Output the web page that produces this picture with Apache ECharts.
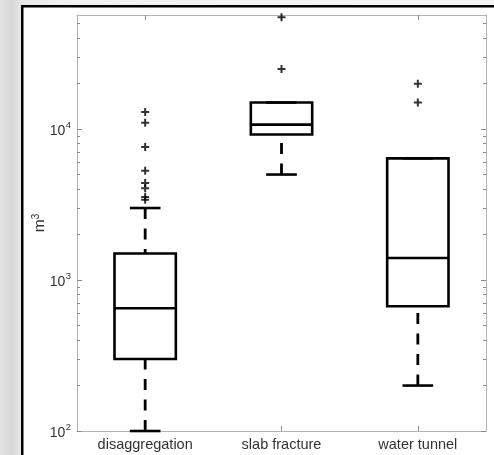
<!DOCTYPE html>
<html>
<head>
<meta charset="utf-8">
<script src="https://cdn.jsdelivr.net/npm/echarts@6/dist/echarts.min.js"></script>
<style>
  html, body { margin: 0; padding: 0; width: 494px; height: 455px; overflow: hidden; background: #f2f2f2; }
  #chart { position: absolute; left: 0; top: 0; width: 494px; height: 455px; }
</style>
</head>
<body>
<div id="chart"></div>
<script>
// Volume (m^3) by failure mechanism
const categories = ['disaggregation', 'slab fracture', 'water tunnel'];

// Box summaries per category
const whiskerLow  = [100, 5000, 200];
const quartile1   = [300, 9200, 670];
const medians     = [650, 10700, 1400];
const quartile3   = [1500, 15000, 6400];
const whiskerHigh = [3000, 15000, 6400];

// Outliers per category
const outliersDisaggregation = [13000, 11000, 7600, 5300, 4400, 4050, 3550, 3400];
const outliersSlabFracture   = [55000, 25000];
const outliersWaterTunnel    = [20000, 15000];

// Log axis tick values
const majorTicks = [100, 1000, 10000];
const minorTicks = [200, 300, 400, 500, 600, 700, 800, 900,
                    2000, 3000, 4000, 5000, 6000, 7000, 8000, 9000,
                    20000, 30000, 40000, 50000];
const yMin = 100;
const yMax = 57000;

const FONT = '"Liberation Sans", Arial, Helvetica, sans-serif';
const AXIS_GRAY = '#b4b4b4';
const TICK_GRAY = '#8c8c8c';
const TEXT = '#333333';

const boxData = categories.map((c, i) =>
  [i, whiskerLow[i], quartile1[i], medians[i], quartile3[i], whiskerHigh[i]]);

const outlierData = []
  .concat(outliersDisaggregation.map(v => [0, v]))
  .concat(outliersSlabFracture.map(v => [1, v]))
  .concat(outliersWaterTunnel.map(v => [2, v]));

function renderBox(params, api) {
  const i = api.value(0);
  const pLow  = api.coord([i, api.value(1)]);
  const pQ1   = api.coord([i, api.value(2)]);
  const pMed  = api.coord([i, api.value(3)]);
  const pQ3   = api.coord([i, api.value(4)]);
  const pHigh = api.coord([i, api.value(5)]);
  const band = api.size([1, 0])[0];
  const x = pMed[0];
  const bw = band * 0.45;
  const cw = band * 0.225;
  const solid = { stroke: '#000', lineWidth: 2.6, fill: null };
  const dashed = { stroke: '#000', lineWidth: 2.8, lineDash: [11, 9.5], fill: null };
  const children = [];
  if (pLow[1] - pQ1[1] > 0.5) {
    children.push({ type: 'line', shape: { x1: x, y1: pLow[1], x2: x, y2: pQ1[1] }, style: dashed });
  }
  if (pQ3[1] - pHigh[1] > 0.5) {
    children.push({ type: 'line', shape: { x1: x, y1: pHigh[1], x2: x, y2: pQ3[1] }, style: dashed });
  }
  children.push({ type: 'line', shape: { x1: x - cw / 2, y1: pLow[1], x2: x + cw / 2, y2: pLow[1] }, style: solid });
  children.push({ type: 'line', shape: { x1: x - cw / 2, y1: pHigh[1], x2: x + cw / 2, y2: pHigh[1] }, style: solid });
  children.push({ type: 'rect', shape: { x: x - bw / 2, y: pQ3[1], width: bw, height: pQ1[1] - pQ3[1] },
                  style: { stroke: '#000', lineWidth: 2.6, fill: 'transparent' } });
  children.push({ type: 'line', shape: { x1: x - bw / 2, y1: pMed[1], x2: x + bw / 2, y2: pMed[1] }, style: solid });
  return { type: 'group', children: children };
}

function logAxis(position, ticks, tickLen, showLine, showLabel) {
  const ax = {
    type: 'log',
    logBase: 10,
    position: position,
    min: yMin,
    max: yMax,
    offset: 0,
    splitLine: { show: false },
    minorTick: { show: false },
    axisLine: { show: showLine, lineStyle: { color: AXIS_GRAY, width: 1 } },
    axisTick: { show: true, inside: true, length: tickLen, customValues: ticks,
                lineStyle: { color: TICK_GRAY, width: 1 } },
    axisLabel: { show: false }
  };
  if (showLabel) {
    ax.axisLabel = {
      show: true,
      customValues: majorTicks,
      margin: 6,
      color: TEXT,
      fontFamily: FONT,
      formatter: v => '{b|10}{s|' + Math.round(Math.log10(v)) + '}',
      rich: {
        b: { fontSize: 14, fontFamily: FONT, color: TEXT, lineHeight: 18, verticalAlign: 'bottom' },
        s: { fontSize: 9.5, fontFamily: FONT, color: TEXT, lineHeight: 18, verticalAlign: 'top', padding: [0, 0, 0, 0.5] }
      }
    };
    ax.name = '{m|m}{s|3}';
    ax.nameLocation = 'middle';
    ax.nameGap = 29;
    ax.nameRotate = 90;
    ax.nameMoveOverlap = false;
    ax.nameTextStyle = {
      rich: {
        m: { fontSize: 15.5, fontFamily: FONT, color: TEXT, lineHeight: 17, verticalAlign: 'bottom' },
        s: { fontSize: 10, fontFamily: FONT, color: TEXT, lineHeight: 17, verticalAlign: 'top' }
      }
    };
  }
  return ax;
}

function catAxis(position, showLabel) {
  return {
    type: 'category',
    data: categories,
    position: position,
    boundaryGap: true,
    axisLine: { show: true, lineStyle: { color: AXIS_GRAY, width: 1 } },
    axisTick: { show: true, inside: true, alignWithLabel: true, length: 5,
                lineStyle: { color: TICK_GRAY, width: 1 } },
    axisLabel: { show: showLabel, color: TEXT, fontSize: 14.5, fontFamily: FONT, margin: 6 },
    splitLine: { show: false }
  };
}

const chart = echarts.init(document.getElementById('chart'), null, { renderer: 'canvas' });
chart.setOption({
  animation: false,
  backgroundColor: 'transparent',
  // slide backdrop and the framed white panel behind the axes
  graphic: [
    {
      type: 'rect', silent: true, z: -20,
      shape: { x: 0, y: 0, width: 494, height: 455 },
      style: {
        fill: new echarts.graphic.LinearGradient(0, 0, 1, 0, [
          { offset: 0, color: '#e2e2e2' },
          { offset: 0.025, color: '#d8d8d8' },
          { offset: 0.045, color: '#e9e9e9' },
          { offset: 0.15, color: '#f2f2f2' },
          { offset: 1, color: '#f4f4f4' }
        ])
      }
    },
    {
      type: 'rect', silent: true, z: -10,
      shape: { x: 22.25, y: 6.25, width: 600, height: 600 },
      style: { fill: '#ffffff', stroke: '#000000', lineWidth: 2.5 }
    }
  ],
  grid: { left: 77, right: 8, top: 15, bottom: 24, containLabel: false },
  xAxis: [catAxis('bottom', true), catAxis('top', false)],
  yAxis: [
    logAxis('left', majorTicks, 5, true, true),
    logAxis('left', minorTicks, 3, false, false),
    logAxis('right', majorTicks, 5, true, false),
    logAxis('right', minorTicks, 3, false, false)
  ],
  series: [
    {
      type: 'custom',
      xAxisIndex: 0,
      yAxisIndex: 0,
      renderItem: renderBox,
      encode: { x: 0, y: [1, 2, 3, 4, 5] },
      data: boxData,
      clip: false,
      z: 3
    },
    {
      type: 'scatter',
      xAxisIndex: 0,
      yAxisIndex: 0,
      symbol: 'path://M3,0H5V3H8V5H5V8H3V5H0V3H3Z',
      symbolSize: 8,
      itemStyle: { color: '#000' },
      data: outlierData,
      z: 4
    }
  ]
});
</script>
</body>
</html>
